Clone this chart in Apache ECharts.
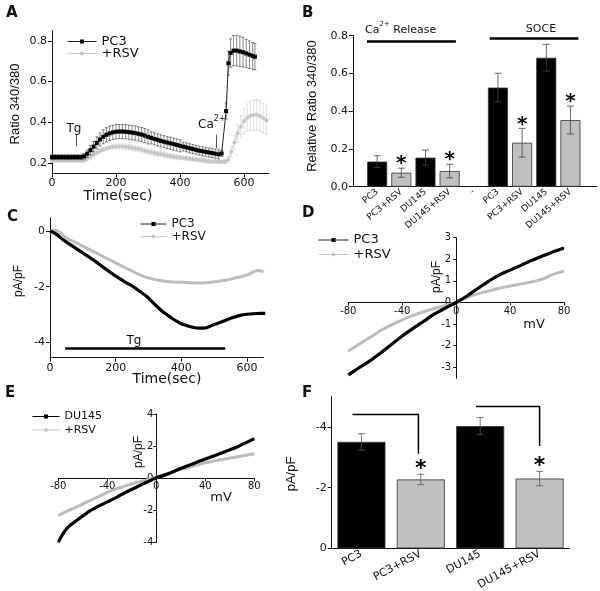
<!DOCTYPE html>
<html>
<head>
<meta charset="utf-8">
<title>Ca2+ signalling figure</title>
<script src="https://cdn.jsdelivr.net/npm/echarts@6/dist/echarts.min.js"></script>
<style>
  html, body { margin: 0; padding: 0; background: #fff; }
  #chart { width: 600px; height: 591px; }
</style>
</head>
<body>
<div id="chart"></div>
<script>
// ---------- Panel A: ratio 340/380 time course ----------
const aTime = [0, 10, 20, 30, 40, 50, 60, 70, 80, 90, 100, 110, 120, 130, 140, 150, 160, 170, 180, 190,
  200, 210, 220, 230, 240, 250, 260, 270, 280, 290, 300, 310, 320, 330, 340, 350, 360, 370, 380, 390,
  400, 410, 420, 430, 440, 450, 460, 470, 480, 490, 500, 510, 520];
const aPC3 = [0.228, 0.228, 0.228, 0.228, 0.228, 0.228, 0.228, 0.228, 0.228, 0.228,
  0.232, 0.245, 0.262, 0.28, 0.298, 0.315, 0.328, 0.338, 0.345, 0.35,
  0.353, 0.354, 0.354, 0.353, 0.351, 0.349, 0.346, 0.343, 0.339, 0.334,
  0.328, 0.323, 0.318, 0.313, 0.308, 0.304, 0.3, 0.296, 0.292, 0.288,
  0.284, 0.28, 0.276, 0.272, 0.268, 0.264, 0.26, 0.257, 0.254, 0.251,
  0.248, 0.245, 0.242];
const aPC3Err = [0.012, 0.012, 0.012, 0.012, 0.012, 0.012, 0.012, 0.012, 0.012, 0.012,
  0.014, 0.018, 0.022, 0.026, 0.03, 0.032, 0.035, 0.035, 0.035, 0.035,
  0.035, 0.035, 0.035, 0.035, 0.035, 0.035, 0.035, 0.035, 0.035, 0.035,
  0.035, 0.03, 0.03, 0.03, 0.03, 0.03, 0.03, 0.03, 0.03, 0.03,
  0.03, 0.022, 0.022, 0.022, 0.022, 0.022, 0.022, 0.022, 0.022, 0.022,
  0.022, 0.022, 0.022];
const aRSV = [0.211, 0.211, 0.211, 0.211, 0.211, 0.211, 0.211, 0.211, 0.211, 0.211,
  0.213, 0.22, 0.23, 0.24, 0.25, 0.259, 0.266, 0.272, 0.276, 0.279,
  0.28, 0.281, 0.28, 0.279, 0.277, 0.274, 0.271, 0.268, 0.264, 0.26,
  0.256, 0.252, 0.249, 0.245, 0.242, 0.239, 0.236, 0.233, 0.231, 0.228,
  0.226, 0.224, 0.222, 0.22, 0.218, 0.216, 0.214, 0.212, 0.21, 0.208,
  0.207, 0.206, 0.205];
const aRSVErr = [0.008, 0.008, 0.008, 0.008, 0.008, 0.008, 0.008, 0.008, 0.008, 0.008,
  0.01, 0.01, 0.01, 0.01, 0.01, 0.01, 0.01, 0.01, 0.01, 0.01,
  0.013, 0.013, 0.013, 0.013, 0.013, 0.013, 0.013, 0.013, 0.013, 0.013,
  0.012, 0.012, 0.012, 0.012, 0.012, 0.012, 0.012, 0.012, 0.012, 0.012,
  0.01, 0.01, 0.01, 0.01, 0.01, 0.01, 0.01, 0.01, 0.01, 0.01,
  0.01, 0.01, 0.01];
// after Ca2+ add-back
const aPC3SpikeTime = [530, 544, 551, 558, 567, 577, 587, 597, 607, 617, 627, 634];
const aPC3Spike = [0.246, 0.455, 0.69, 0.74, 0.752, 0.752, 0.748, 0.744, 0.738, 0.732, 0.726, 0.722];
const aPC3SpikeErr = [0.015, 0.04, 0.06, 0.07, 0.075, 0.075, 0.075, 0.072, 0.07, 0.068, 0.066, 0.065];
const aRSVSpikeTime = [530, 540, 550, 560, 570, 580, 590, 600, 610, 620, 630, 640, 650, 660, 670];
const aRSVSpike = [0.205, 0.207, 0.215, 0.255, 0.3, 0.345, 0.378, 0.405, 0.422, 0.432, 0.435, 0.436, 0.43, 0.42, 0.41];
const aRSVSpikeErr = [0.008, 0.01, 0.015, 0.025, 0.035, 0.045, 0.055, 0.062, 0.068, 0.072, 0.075, 0.075, 0.075, 0.072, 0.07];
const aTicksX = [0, 200, 400, 600];
const aTicksY = [0.2, 0.4, 0.6, 0.8];

// ---------- Panel B: Ca2+ release / SOCE bars ----------
const bNames = ['PC3', 'PC3+RSV', 'DU145', 'DU145+RSV', '-', 'PC3', 'PC3+RSV', 'DU145', 'DU145+RSV'];
const bValues = [0.133, 0.074, 0.154, 0.083, null, 0.525, 0.233, 0.683, 0.353];
const bErrors = [0.031, 0.024, 0.04, 0.036, null, 0.076, 0.076, 0.071, 0.074];
const bSignificant = [0, 1, 0, 1, 0, 0, 1, 0, 1];
const bTicksY = [0, 0.2, 0.4, 0.6, 0.8];

// ---------- Panel C: current vs time ----------
const cTimePC3 = [0, 10, 20, 41, 70, 102, 130, 153, 180, 203, 230, 254, 275, 295, 310, 326, 340,
  356, 375, 397, 420, 437, 455, 468, 482, 498, 520, 539, 560, 580, 600, 620, 640, 656];
const cPC3 = [0, -0.05, -0.12, -0.32, -0.55, -0.8, -1.02, -1.22, -1.45, -1.64, -1.84, -2.0, -2.18,
  -2.35, -2.53, -2.71, -2.86, -3.0, -3.16, -3.31, -3.41, -3.46, -3.49, -3.49, -3.45, -3.37, -3.28,
  -3.19, -3.1, -3.03, -2.99, -2.97, -2.96, -2.96];
const cTimeRSV = [0, 10, 20, 30, 51, 80, 102, 130, 153, 180, 203, 230, 254, 280, 305, 330, 356,
  380, 407, 430, 458, 485, 509, 535, 560, 580, 600, 612, 620, 636, 645, 651];
const cRSV = [0, 0.03, 0.02, -0.05, -0.26, -0.42, -0.56, -0.72, -0.86, -1.02, -1.16, -1.32, -1.46,
  -1.6, -1.7, -1.77, -1.81, -1.83, -1.84, -1.86, -1.87, -1.85, -1.81, -1.77, -1.7, -1.65, -1.58,
  -1.52, -1.46, -1.42, -1.44, -1.48];
const cTicksX = [0, 200, 400, 600];
const cTicksY = [-4, -2, 0];
const cTgOn = [46, 534];

// ---------- Panel D: I-V, PC3 ----------
const dVoltage = [-80, -72, -64, -56, -48, -40, -32, -24, -16, -8, 0, 8, 16, 24, 32, 40, 48, 56, 64, 72, 80];
const dPC3 = [-3.35, -3.02, -2.7, -2.34, -1.95, -1.55, -1.2, -0.87, -0.53, -0.26, 0, 0.3, 0.65, 0.98, 1.28,
  1.5, 1.72, 1.95, 2.15, 2.35, 2.52];
const dRSV = [-2.25, -1.93, -1.62, -1.3, -1.04, -0.8, -0.6, -0.43, -0.28, -0.14, 0, 0.23, 0.4, 0.53, 0.66,
  0.76, 0.86, 0.95, 1.08, 1.3, 1.45];
const dTicksX = [-80, -40, 0, 40, 80];
const dTicksY = [-3, -2, -1, 0, 1, 2, 3];

// ---------- Panel E: I-V, DU145 ----------
const eVoltage = [-80, -76, -72, -64, -56, -48, -40, -32, -24, -16, -8, 0, 8, 16, 24, 32, 40, 48, 56, 64, 72, 80];
const eDU145 = [-4.0, -3.45, -3.05, -2.58, -2.13, -1.78, -1.48, -1.18, -0.85, -0.55, -0.26, 0.02, 0.22, 0.48,
  0.72, 0.96, 1.2, 1.42, 1.65, 1.88, 2.17, 2.46];
const eRSV = [-2.33, -2.18, -2.03, -1.76, -1.47, -1.18, -0.88, -0.65, -0.45, -0.27, -0.12, 0.05, 0.25, 0.45,
  0.62, 0.79, 0.96, 1.08, 1.2, 1.3, 1.41, 1.52];
const eTicksX = [-80, -40, 0, 40, 80];
const eTicksY = [-4, -2, 0, 2, 4];

// ---------- Panel F: peak current bars ----------
const fNames = ['PC3', 'PC3+RSV', 'DU145', 'DU145+RSV'];
const fValues = [-3.51, -2.27, -4.03, -2.3];
const fErrors = [0.27, 0.17, 0.28, 0.24];
const fSignificant = [0, 1, 0, 1];
const fTicksY = [-4, -2, 0];

// ---------- styling ----------
const FONT = '"DejaVu Sans", sans-serif';
const FONT_V = '"Liberation Sans", Arial, sans-serif';
const INK = '#111';
const GREY_A = '#c6c6c6';
const GREY_LINE = '#bcbcbc';
const GREY_BAR = '#c0c0c0';

const zip = (xs, ys) => xs.map((x, i) => [x, ys[i]]);
const zipErr = (xs, ys, es, sig) => xs.map((x, i) => [x, ys[i], es[i], sig ? sig[i] : 0]);

const grids = [
  { left: 52, top: 30.7, width: 217, height: 142.3 },
  { left: 353, top: 35.7, width: 244, height: 151 },
  { left: 50, top: 217.7, width: 213.3, height: 140 },
  { left: 348.3, top: 237.7, width: 215.7, height: 140.6 },
  { left: 58.3, top: 414, width: 196, height: 128.3 },
  { left: 331.7, top: 396.7, width: 237.6, height: 151.6 }
];

// shift an axis so that it crosses the other one at zero (panels D, E)
const crossOffset = (size, min, max) => -size * (0 - min) / (max - min);

function makeAxis(gridIndex, o) {
  const tick = { show: o.ticks !== false, length: o.tickLen || 4, lineStyle: { color: INK, width: 1 } };
  const label = { color: INK, fontSize: o.fontSize || 11, fontFamily: FONT, margin: o.margin || 5 };
  if (o.values) { tick.customValues = o.values; label.customValues = o.values; }
  if (o.formatter) label.formatter = o.formatter;
  if (o.rotate) label.rotate = o.rotate;
  return {
    type: 'value', gridIndex: gridIndex, min: o.min, max: o.max, inverse: !!o.inverse,
    offset: o.offset || 0,
    axisLine: { show: true, onZero: false, lineStyle: { color: INK, width: 1 } },
    axisTick: tick, axisLabel: label, splitLine: { show: false }
  };
}

// error bars (+ optional significance star) drawn through the axis scales
function errorBars(color, capHalf, width, starSize, starGap) {
  return function (params, api) {
    const x = api.value(0), y = api.value(1), e = api.value(2);
    const p1 = api.coord([x, y - e]);
    const p2 = api.coord([x, y + e]);
    const st = { stroke: color, lineWidth: width };
    const kids = [
      { type: 'line', shape: { x1: p1[0], y1: p1[1], x2: p2[0], y2: p2[1] }, style: st },
      { type: 'line', shape: { x1: p1[0] - capHalf, y1: p1[1], x2: p1[0] + capHalf, y2: p1[1] }, style: st },
      { type: 'line', shape: { x1: p2[0] - capHalf, y1: p2[1], x2: p2[0] + capHalf, y2: p2[1] }, style: st }
    ];
    if (api.value(3)) {
      const upper = Math.min(p1[1], p2[1]);
      kids.push({
        type: 'text', x: p1[0], y: upper - starGap,
        style: { text: '*', fill: '#000', font: 'bold ' + starSize + 'px ' + FONT, align: 'center', verticalAlign: 'middle' }
      });
    }
    return { type: 'group', children: kids };
  };
}

function legendAt(name, left, top, fontSize, width) {
  return {
    data: [name], left: left, top: top, orient: 'vertical', padding: 0,
    itemWidth: width, itemHeight: 5, selectedMode: false,
    textStyle: { fontSize: fontSize, fontFamily: FONT, color: INK },
    lineStyle: { width: 1 }, itemStyle: { borderWidth: 0 }
  };
}

function txt(text, x, y, size, opts) {
  opts = opts || {};
  return {
    type: 'text', x: x, y: y, rotation: opts.rotation || 0, silent: true,
    style: {
      text: text, fill: INK, font: (opts.bold ? 'bold ' : '') + size + 'px ' + (opts.font || FONT),
      align: opts.align || 'center', verticalAlign: opts.valign || 'middle', rich: opts.rich
    }
  };
}

const superRich = (size) => ({
  c: { fontSize: size, fontFamily: FONT, fill: INK, lineHeight: size + 4, verticalAlign: 'bottom' },
  s: { fontSize: Math.round(size * 0.65), fontFamily: FONT, fill: INK, lineHeight: size + 4, verticalAlign: 'top' }
});

const bBars = [];
const bErrData = [];
bValues.forEach((v, i) => {
  if (v === null) return;
  bBars.push({ value: [i + 1, v], itemStyle: { color: bNames[i].includes('RSV') ? GREY_BAR : '#000' } });
  bErrData.push([i + 1, v, bErrors[i], bSignificant[i]]);
});

const option = {
  animation: false,
  backgroundColor: '#fff',
  grid: grids.map((g) => Object.assign({ outerBoundsMode: 'none' }, g)),
  xAxis: [
    makeAxis(0, { min: 0, max: 678, values: aTicksX, margin: 5 }),
    makeAxis(1, { min: 0, max: 10.1, values: bNames.map((n, i) => i + 1), ticks: false, fontSize: 9,
      rotate: 40, margin: 4, formatter: (v) => bNames[v - 1] }),
    makeAxis(2, { min: 0, max: 650, values: cTicksX, fontSize: 11 }),
    makeAxis(3, { min: -80, max: 80, values: dTicksX, fontSize: 10, tickLen: 3, margin: 4,
      offset: crossOffset(grids[3].height, -3.51, 3) }),
    makeAxis(4, { min: -80, max: 80, values: eTicksX, fontSize: 10, tickLen: 3, margin: 3,
      offset: crossOffset(grids[4].height, -4, 4) }),
    makeAxis(5, { min: -0.5, max: 3.5, values: fNames.map((n, i) => i), ticks: false, fontSize: 11,
      rotate: 28, margin: 5, formatter: (v) => fNames[v] })
  ],
  yAxis: [
    makeAxis(0, { min: 0.15, max: 0.85, values: aTicksY, formatter: (v) => v.toFixed(1) }),
    makeAxis(1, { min: 0, max: 0.8, values: bTicksY, formatter: (v) => v.toFixed(1) }),
    makeAxis(2, { min: -4.55, max: 0.48, values: cTicksY, fontSize: 11 }),
    makeAxis(3, { min: -3.51, max: 3, values: dTicksY, fontSize: 10, tickLen: 3, margin: 5,
      offset: crossOffset(grids[3].width, -80, 80) }),
    makeAxis(4, { min: -4, max: 4, values: eTicksY, fontSize: 10, tickLen: 3, margin: 3,
      offset: crossOffset(grids[4].width, -80, 80) }),
    makeAxis(5, { min: -5, max: 0, inverse: true, values: fTicksY, fontSize: 11 })
  ],
  legend: [
    legendAt('PC3', 67, 35, 13, 29),
    legendAt('+RSV', 67, 47, 13, 29),
    legendAt('PC3', 140, 218, 12, 26),
    legendAt('+RSV', 140, 230.5, 12, 26),
    legendAt('PC3', 318, 233.5, 13, 30),
    legendAt('+RSV', 318, 248, 13, 30),
    legendAt('DU145', 32, 411, 11, 27),
    legendAt('+RSV', 32, 424.5, 11, 27)
  ],
  series: [
    // ---- A ----
    {
      type: 'custom', xAxisIndex: 0, yAxisIndex: 0, silent: true, z: 1,
      encode: { x: 0, y: 1 },
      renderItem: errorBars('#cfcfcf', 1.5, 0.7),
      data: zipErr(aTime.concat(aRSVSpikeTime), aRSV.concat(aRSVSpike), aRSVErr.concat(aRSVSpikeErr))
    },
    {
      name: '+RSV', type: 'line', xAxisIndex: 0, yAxisIndex: 0, silent: true, z: 2,
      data: zip(aTime.concat(aRSVSpikeTime), aRSV.concat(aRSVSpike)),
      symbol: 'circle', symbolSize: 4, color: GREY_A,
      itemStyle: { color: GREY_A }, lineStyle: { color: GREY_A, width: 1 }
    },
    {
      type: 'custom', xAxisIndex: 0, yAxisIndex: 0, silent: true, z: 3,
      encode: { x: 0, y: 1 },
      renderItem: errorBars('#333', 1.5, 0.6),
      data: zipErr(aTime.concat(aPC3SpikeTime), aPC3.concat(aPC3Spike), aPC3Err.concat(aPC3SpikeErr))
    },
    {
      name: 'PC3', type: 'line', xAxisIndex: 0, yAxisIndex: 0, silent: true, z: 4,
      data: zip(aTime.concat(aPC3SpikeTime), aPC3.concat(aPC3Spike)),
      symbol: 'rect', symbolSize: 4, color: '#000',
      itemStyle: { color: '#000' }, lineStyle: { color: '#222', width: 1 },
      markLine: {
        silent: true, symbol: ['none', 'arrow'], symbolSize: [0, 5],
        label: { show: false },
        lineStyle: { color: '#222', width: 0.8, type: 'solid' },
        data: [
          [{ coord: [75, 0.338] }, { coord: [75, 0.281] }],
          [{ coord: [512, 0.338] }, { coord: [512, 0.272] }]
        ]
      }
    },
    // ---- B ----
    {
      name: 'B', type: 'bar', xAxisIndex: 1, yAxisIndex: 1, silent: true, barWidth: 20,
      itemStyle: { borderColor: '#333', borderWidth: 0.8 },
      data: bBars,
      markLine: {
        silent: true, symbol: ['none', 'none'], label: { show: false },
        lineStyle: { color: '#000', width: 2.5, type: 'solid' },
        data: [
          [{ coord: [0.58, 0.769] }, { coord: [4.26, 0.769] }],
          [{ coord: [5.66, 0.787] }, { coord: [9.33, 0.787] }]
        ]
      }
    },
    {
      type: 'custom', xAxisIndex: 1, yAxisIndex: 1, silent: true, z: 5,
      encode: { x: 0, y: 1 },
      renderItem: errorBars('#444', 3.5, 0.8, 20, 4),
      data: bErrData
    },
    // ---- C ----
    {
      name: 'PC3', type: 'line', xAxisIndex: 2, yAxisIndex: 2, silent: true, z: 3,
      data: zip(cTimePC3, cPC3), showSymbol: false, symbol: 'none', smooth: 0.3,
      color: '#000', lineStyle: { color: '#000', width: 3.2 },
      markLine: {
        silent: true, symbol: ['none', 'none'], label: { show: false },
        lineStyle: { color: '#000', width: 2.5, type: 'solid' },
        data: [[{ coord: [cTgOn[0], -4.2] }, { coord: [cTgOn[1], -4.2] }]]
      }
    },
    {
      name: '+RSV', type: 'line', xAxisIndex: 2, yAxisIndex: 2, silent: true, z: 2,
      data: zip(cTimeRSV, cRSV), showSymbol: false, symbol: 'none', smooth: 0.3,
      color: GREY_LINE, lineStyle: { color: GREY_LINE, width: 3 }
    },
    // ---- D ----
    {
      name: 'PC3', type: 'line', xAxisIndex: 3, yAxisIndex: 3, silent: true, z: 3,
      data: zip(dVoltage, dPC3), showSymbol: false, symbol: 'none', smooth: 0.3,
      color: '#000', lineStyle: { color: '#000', width: 3.2 }
    },
    {
      name: '+RSV', type: 'line', xAxisIndex: 3, yAxisIndex: 3, silent: true, z: 2,
      data: zip(dVoltage, dRSV), showSymbol: false, symbol: 'none', smooth: 0.3,
      color: GREY_LINE, lineStyle: { color: GREY_LINE, width: 3 }
    },
    // ---- E ----
    {
      name: 'DU145', type: 'line', xAxisIndex: 4, yAxisIndex: 4, silent: true, z: 3,
      data: zip(eVoltage, eDU145), showSymbol: false, symbol: 'rect', smooth: 0.3,
      color: '#000', itemStyle: { color: '#000' }, lineStyle: { color: '#000', width: 3.2 }
    },
    {
      name: '+RSV', type: 'line', xAxisIndex: 4, yAxisIndex: 4, silent: true, z: 2,
      data: zip(eVoltage, eRSV), showSymbol: false, symbol: 'none', smooth: 0.3,
      color: GREY_LINE, lineStyle: { color: GREY_LINE, width: 3 }
    },
    // ---- F ----
    {
      name: 'F', type: 'bar', xAxisIndex: 5, yAxisIndex: 5, silent: true, barWidth: 48,
      itemStyle: { borderColor: '#333', borderWidth: 0.8 },
      data: fValues.map((v, i) => ({ value: [i, v], itemStyle: { color: fNames[i].includes('RSV') ? GREY_BAR : '#000' } }))
    },
    {
      type: 'custom', xAxisIndex: 5, yAxisIndex: 5, silent: true, z: 5,
      encode: { x: 0, y: 1 },
      renderItem: errorBars('#555', 3.5, 0.8, 22, 5),
      data: zipErr(fNames.map((n, i) => i), fValues, fErrors, fSignificant)
    },
    {
      name: 'bracket1', type: 'line', xAxisIndex: 5, yAxisIndex: 5, silent: true, symbol: 'none',
      lineStyle: { color: '#000', width: 1.5 },
      data: [[-0.15, -4.41], [0.96, -4.41], [0.96, -3.12]]
    },
    {
      name: 'bracket2', type: 'line', xAxisIndex: 5, yAxisIndex: 5, silent: true, symbol: 'none',
      lineStyle: { color: '#000', width: 1.5 },
      data: [[1.93, -4.68], [3.0, -4.68], [3.0, -3.37]]
    }
  ],
  graphic: {
    elements: [
      // panel letters
      txt('A', 6, 6, 15, { bold: true, align: 'left', valign: 'top' }),
      txt('B', 302, 6, 15, { bold: true, align: 'left', valign: 'top' }),
      txt('C', 7, 210, 15, { bold: true, align: 'left', valign: 'top' }),
      txt('D', 302, 206, 15, { bold: true, align: 'left', valign: 'top' }),
      txt('E', 5, 386, 15, { bold: true, align: 'left', valign: 'top' }),
      txt('F', 302, 386, 15, { bold: true, align: 'left', valign: 'top' }),
      // axis titles
      txt('Ratio 340/380', 15, 104, 13, { rotation: Math.PI / 2, font: FONT_V }),
      txt('Time(sec)', 118, 196, 14),
      txt('Relative Ratio 340/380', 312, 106, 13, { rotation: Math.PI / 2, font: FONT_V }),
      txt('pA/pF', 19, 281, 12, { rotation: Math.PI / 2, font: FONT_V }),
      txt('Time(sec)', 167, 379, 14),
      txt('pA/pF', 437, 277, 12, { rotation: Math.PI / 2, font: FONT_V }),
      txt('mV', 534, 325, 13),
      txt('pA/pF', 139, 452, 12, { rotation: Math.PI / 2, font: FONT_V }),
      txt('mV', 221, 498, 13),
      txt('pA/pF', 291, 474, 13, { rotation: Math.PI / 2, font: FONT_V }),
      // annotations
      txt('Tg', 74, 129, 12),
      txt('{c|Ca}{s|2+}', 198, 123, 12, { align: 'left', rich: superRich(12) }),
      txt('{c|Ca}{s|2+}{c| Release}', 365, 28, 11, { align: 'left', rich: superRich(11) }),
      txt('SOCE', 541, 29.5, 11),
      txt('Tg', 134, 340.5, 12)
    ]
  }
};

const chart = echarts.init(document.getElementById('chart'));
chart.setOption(option);
</script>
</body>
</html>
